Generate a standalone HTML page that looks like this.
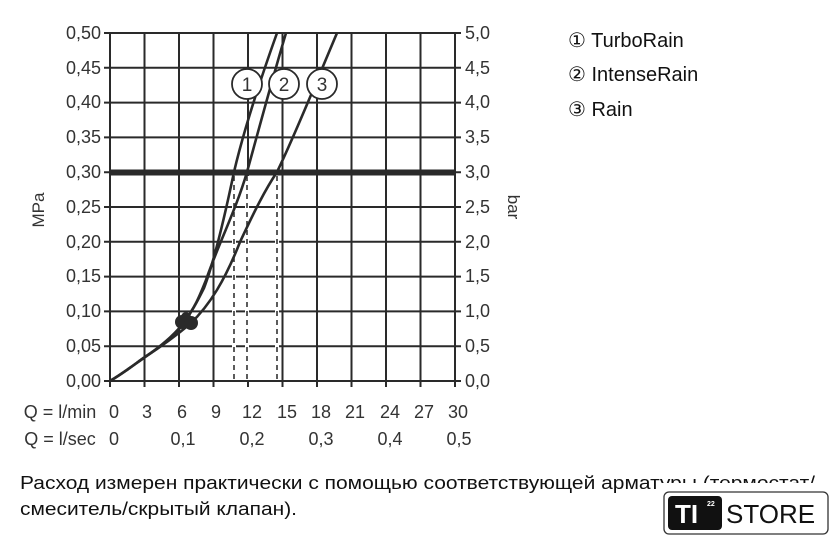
<!DOCTYPE html>
<html><head><meta charset="utf-8"><style>
body{margin:0;background:#fff;width:840px;height:547px;overflow:hidden;font-family:"Liberation Sans",sans-serif}
</style></head><body>
<svg width="840" height="547" xmlns="http://www.w3.org/2000/svg" font-family="Liberation Sans, sans-serif">
<g stroke="#2a2a2a" stroke-width="2" fill="none">
<rect x="110" y="33" width="345" height="348"/>
<path d="M144.5 33V381M179 33V381M213.5 33V381M248 33V381M282.5 33V381M317 33V381M351.5 33V381M386 33V381M420.5 33V381"/>
<path d="M110 67.8H455M110 102.6H455M110 137.4H455M110 172.2H455M110 207H455M110 241.8H455M110 276.6H455M110 311.4H455M110 346.2H455"/>
<path d="M104 33H110M104 67.8H110M104 102.6H110M104 137.4H110M104 172.2H110M104 207H110M104 241.8H110M104 276.6H110M104 311.4H110M104 346.2H110M104 381H110"/>
<path d="M455 33H461M455 67.8H461M455 102.6H461M455 137.4H461M455 172.2H461M455 207H461M455 241.8H461M455 276.6H461M455 311.4H461M455 346.2H461M455 381H461"/>
<path d="M110 381V387M144.5 381V387M179 381V387M213.5 381V387M248 381V387M282.5 381V387M317 381V387M351.5 381V387M386 381V387M420.5 381V387M455 381V387"/>
</g>
<line x1="110" y1="172.5" x2="455" y2="172.5" stroke="#2a2a2a" stroke-width="6"/>
<g stroke="#fff" stroke-width="4"><path d="M234 176V380M247 176V380M277 176V380"/></g>
<g stroke="#333" stroke-width="1.6" stroke-dasharray="5,4"><path d="M234 176V381M247 176V381M277 176V381"/></g>
<g stroke="#2a2a2a" stroke-width="2.6" fill="none" stroke-linejoin="round">
<path d="M110 381 C125 372 135 364 145 357 C160 347 172 338 180 328 C192 312 198 300 204 288 C214 262 225 215 234 172 C245 125 262 75 277 33"/>
<path d="M110 381 C125 372 135 364 145 357 C160 347 172 337 182 325 C195 308 200 295 206 280 C218 245 236 210 247 172 C260 125 272 80 286 33"/>
<path d="M110 381 C125 372 135 364 145 357 C165 344 178 334 190 324 C210 305 225 280 240 242 C255 210 265 190 277 172 C295 135 315 85 337 33"/>
</g>
<circle cx="182" cy="322" r="7" fill="#2a2a2a"/><circle cx="191" cy="323" r="7" fill="#2a2a2a"/><circle cx="186" cy="317" r="5" fill="#2a2a2a"/>
<g fill="#fff" stroke="#2a2a2a" stroke-width="1.8">
<circle cx="247" cy="84" r="15"/><circle cx="284" cy="84" r="15"/><circle cx="322" cy="84" r="15"/>
</g>
<g font-size="19" fill="#333" text-anchor="middle"><text x="247" y="91">1</text><text x="284" y="91">2</text><text x="322" y="91">3</text></g>
<g font-size="18" fill="#333" text-anchor="end">
<text x="101" y="39">0,50</text><text x="101" y="74">0,45</text><text x="101" y="108">0,40</text><text x="101" y="143">0,35</text><text x="101" y="178">0,30</text><text x="101" y="213">0,25</text><text x="101" y="248">0,20</text><text x="101" y="282">0,15</text><text x="101" y="317">0,10</text><text x="101" y="352">0,05</text><text x="101" y="387">0,00</text>
</g>
<g font-size="18" fill="#333">
<text x="465" y="39">5,0</text><text x="465" y="74">4,5</text><text x="465" y="108">4,0</text><text x="465" y="143">3,5</text><text x="465" y="178">3,0</text><text x="465" y="213">2,5</text><text x="465" y="248">2,0</text><text x="465" y="282">1,5</text><text x="465" y="317">1,0</text><text x="465" y="352">0,5</text><text x="465" y="387">0,0</text>
</g>
<text transform="translate(44,210) rotate(-90)" font-size="17" fill="#333" text-anchor="middle">MPa</text>
<text transform="translate(508,207) rotate(90)" font-size="17" fill="#333" text-anchor="middle">bar</text>
<g font-size="18" fill="#333" text-anchor="middle">
<text x="60" y="418">Q = l/min</text>
<text x="114" y="418">0</text><text x="147" y="418">3</text><text x="182" y="418">6</text><text x="216" y="418">9</text><text x="252" y="418">12</text><text x="287" y="418">15</text><text x="321" y="418">18</text><text x="355" y="418">21</text><text x="390" y="418">24</text><text x="424" y="418">27</text><text x="458" y="418">30</text>
<text x="60" y="445">Q = l/sec</text>
<text x="114" y="445">0</text><text x="183" y="445">0,1</text><text x="252" y="445">0,2</text><text x="321" y="445">0,3</text><text x="390" y="445">0,4</text><text x="459" y="445">0,5</text>
</g>
<g font-size="20" fill="#111">
<text x="568" y="47">① TurboRain</text><text x="568" y="81">② IntenseRain</text><text x="568" y="116">③ Rain</text>
</g>
<g font-size="18" fill="#111">
<text x="20" y="489" textLength="795" lengthAdjust="spacingAndGlyphs">Расход измерен практически с помощью соответствующей арматуры (термостат/</text>
<text x="20" y="515" textLength="277" lengthAdjust="spacingAndGlyphs">смеситель/скрытый клапан).</text>
</g>
<rect x="660" y="483" width="180" height="10" fill="#fff"/>
<rect x="664" y="492" width="164" height="42" rx="5" fill="#fff" stroke="#333" stroke-width="1.3"/>
<rect x="668" y="496" width="54" height="34" rx="4" fill="#111"/>
<text x="675" y="523" font-size="26" font-weight="bold" fill="#fff">TI</text>
<text x="707" y="506" font-size="7" font-weight="bold" fill="#fff">22</text>
<text x="726" y="523" font-size="26" fill="#111">STORE</text>
</svg>
</body></html>
